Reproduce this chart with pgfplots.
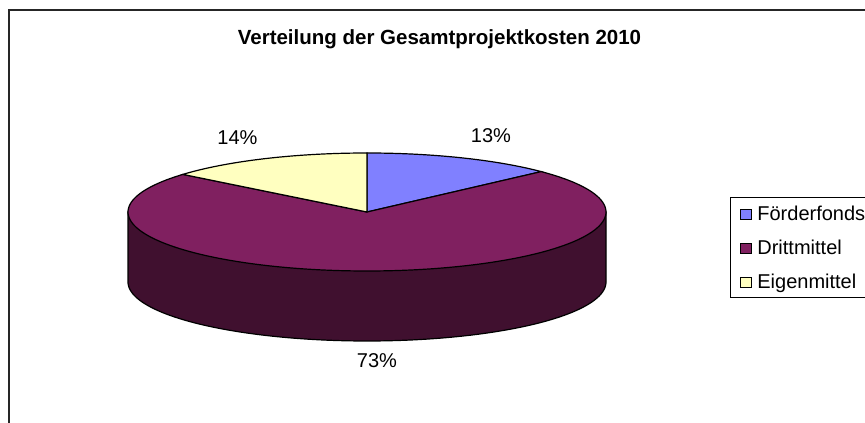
\documentclass[border=0pt]{standalone}
\usepackage{pgfplots}
\usepackage{pgfplotstable}
\pgfplotsset{compat=1.18}
\usepackage{fontspec}
\setmainfont{Liberation Sans}
\definecolor{cfoerder}{HTML}{8080FF}
\definecolor{cdritt}{HTML}{802060}
\definecolor{cdrittside}{HTML}{40102F}
\definecolor{ceigen}{HTML}{FFFFC0}
\pgfplotstableread{
name value
Foerderfonds 13
Drittmittel 73
Eigenmittel 14
}\pietable
\pgfplotstablegetelem{0}{value}\of\pietable \edef\vA{\pgfplotsretval}
\pgfplotstablegetelem{1}{value}\of\pietable \edef\vB{\pgfplotsretval}
\pgfplotstablegetelem{2}{value}\of\pietable \edef\vC{\pgfplotsretval}
% slice angles, clockwise from the top
\pgfmathsetmacro\aA{90-3.6*\vA}
\pgfmathsetmacro\aB{\aA-3.6*\vB}
\pgfmathsetmacro\aBB{\aB+360}
\pgfmathsetmacro\aCC{\aB-3.6*\vC+360}
\def\cx{367}\def\cy{211}\def\rx{239}\def\ry{59}\def\cyb{141}
\begin{document}
\begin{tikzpicture}
\useasboundingbox (0,0) rectangle (865bp,423bp);
\clip (0,0) rectangle (865bp,423bp);
\begin{axis}[at={(0,0)}, anchor=south west, scale only axis,
  width=865bp, height=423bp, xmin=0, xmax=865, ymin=0, ymax=423,
  hide axis, clip=false,
  area legend,
  legend image code/.code={\draw[#1, draw=black, line width=0.8bp] (0bp,-5.5bp) rectangle (11bp,4.5bp);},
  legend cell align=left,
  legend style={at={(0.8439,0.5343)}, anchor=north west, draw=black, line width=1.2bp,
    font=\fontsize{20bp}{24bp}\selectfont,
    inner xsep=9bp, inner ysep=5.5bp, row sep=13bp, column sep=6bp,
    nodes={inner sep=0pt, text height=17bp, text depth=4bp}},
]
% frame
\draw[line width=1.3bp, black!85] (axis cs:9,-10) -- (axis cs:9,413) -- (axis cs:900,413);
% side wall
\addplot[fill=cdrittside, draw=black, line width=1.2bp, domain=180:360, samples=150, forget plot]
  ({\cx+\rx*cos(x)},{\cyb+\ry*sin(x)}) -- (axis cs:606,211) -- (axis cs:128,211) -- cycle;
% top slices
\addplot[fill=cfoerder, draw=black, line width=1.2bp, domain=\aA:90, samples=60]
  ({\cx+\rx*cos(x)},{\cy+\ry*sin(x)}) -- (axis cs:\cx,\cy) -- cycle;
\addlegendentry{Förderfonds\hspace{30bp}}
\addplot[fill=cdritt, draw=black, line width=1.2bp, domain=\aB:\aA, samples=200]
  ({\cx+\rx*cos(x)},{\cy+\ry*sin(x)}) -- (axis cs:\cx,\cy) -- cycle;
\addlegendentry{Drittmittel}
\addplot[fill=ceigen, draw=black, line width=1.2bp, domain=\aCC:\aBB, samples=60]
  ({\cx+\rx*cos(x)},{\cy+\ry*sin(x)}) -- (axis cs:\cx,\cy) -- cycle;
\addlegendentry{Eigenmittel}
% labels
\node[anchor=base, font=\fontsize{20.5bp}{24bp}\selectfont\bfseries] at (axis cs:439.5,378) {Verteilung der Gesamtprojektkosten 2010};
\node[anchor=base, font=\fontsize{20bp}{24bp}\selectfont] at (axis cs:491,280) {13\%};
\node[anchor=base, font=\fontsize{20bp}{24bp}\selectfont] at (axis cs:237.5,278) {14\%};
\node[anchor=base, font=\fontsize{20bp}{24bp}\selectfont] at (axis cs:377,55) {73\%};
\end{axis}
\end{tikzpicture}
\end{document}
